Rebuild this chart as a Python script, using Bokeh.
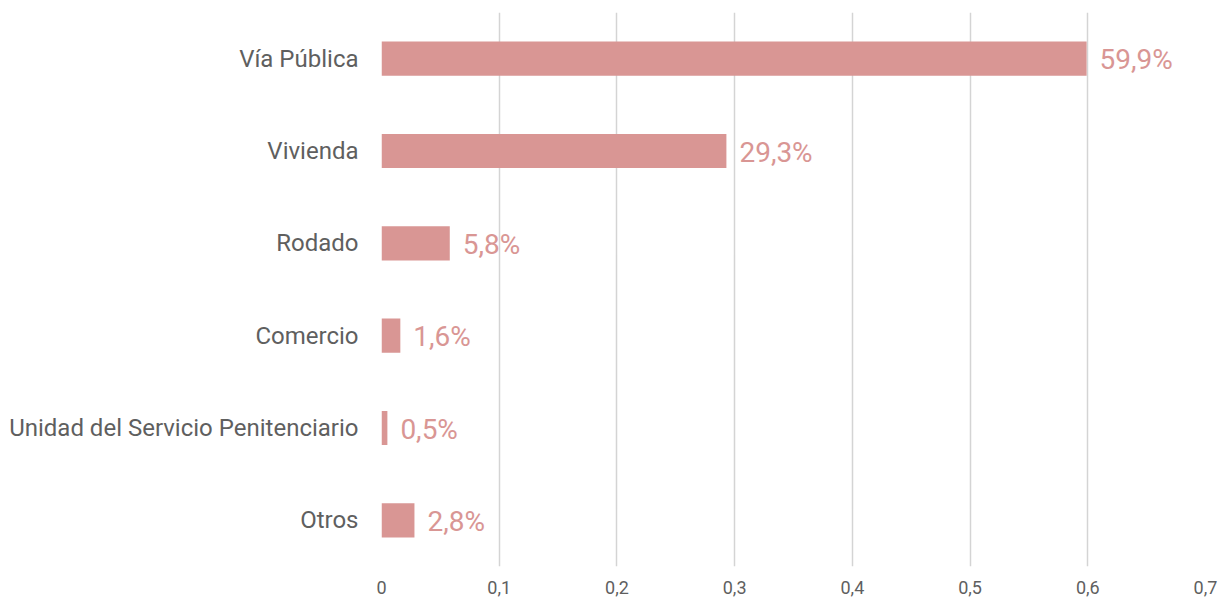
from bokeh.plotting import figure
from bokeh.models import ColumnDataSource, Range1d, FactorRange, FixedTicker, CustomJSTickFormatter
from bokeh.core.properties import value
from bokeh.embed import file_html
from bokeh.resources import INLINE

categories = ["Vía Pública", "Vivienda", "Rodado", "Comercio",
              "Unidad del Servicio Penitenciario", "Otros"]
shares = [0.599, 0.293, 0.058, 0.016, 0.005, 0.028]
share_labels = ["59,9%", "29,3%", "5,8%", "1,6%", "0,5%", "2,8%"]
x_ticks = [0, 0.1, 0.2, 0.3, 0.4, 0.5, 0.6, 0.7]

BAR = "#D99694"
GREY_TEXT = "#5F5F5F"
FONT = "Roboto"

src = ColumnDataSource(dict(cat=categories, val=shares, lab=share_labels))

p = figure(
    y_range=FactorRange(*reversed(categories)),
    x_range=Range1d(0, 0.7),
    frame_width=824, frame_height=554,
    min_border_left=381, min_border_top=12, min_border_right=17, min_border_bottom=36,
    output_backend="svg", toolbar_location=None,
)
p.outline_line_color = None
p.background_fill_color = "white"
p.border_fill_color = "white"

p.hbar(y="cat", right="val", left=0, height=0.37, source=src,
       fill_color=BAR, line_color=None)

p.text(x="val", y="cat", text="lab", source=src, x_offset=13, y_offset=1,
       text_baseline="middle", text_align="left",
       text_color=BAR, text_font=value(FONT), text_font_size="28px")

p.xaxis.ticker = FixedTicker(ticks=x_ticks)
p.xaxis.formatter = CustomJSTickFormatter(
    code='return tick === 0 ? "0" : tick.toFixed(1).replace(".", ",");')
p.xaxis.axis_line_color = None
p.xaxis.major_tick_line_color = None
p.xaxis.minor_tick_line_color = None
p.xaxis.major_tick_out = 0
p.xaxis.major_label_standoff = 14
p.xaxis.major_label_text_color = GREY_TEXT
p.xaxis.major_label_text_font = FONT
p.xaxis.major_label_text_font_size = "18px"

p.yaxis.axis_line_color = None
p.yaxis.major_tick_line_color = None
p.yaxis.minor_tick_line_color = None
p.yaxis.major_tick_out = 0
p.yaxis.major_label_standoff = 23
p.yaxis.major_label_text_color = GREY_TEXT
p.yaxis.major_label_text_font = FONT
p.yaxis.major_label_text_font_size = "24px"

p.xgrid.grid_line_color = "#D4D4D4"
p.xgrid.grid_line_width = 1.5
p.ygrid.grid_line_color = None

open("out.html", "w").write(file_html(p, INLINE))
